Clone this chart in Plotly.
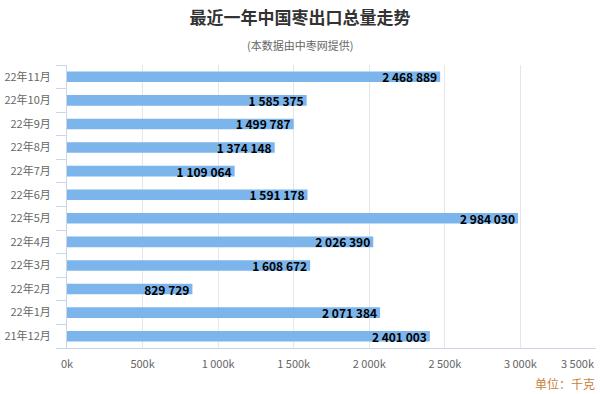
import plotly.graph_objects as go

categories = ["21年12月", "22年1月", "22年2月", "22年3月", "22年4月", "22年5月",
              "22年6月", "22年7月", "22年8月", "22年9月", "22年10月", "22年11月"]
values = [2401003, 2071384, 829729, 1608672, 2026390, 2984030,
          1591178, 1109064, 1374148, 1499787, 1585375, 2468889]
tick_vals = [0, 500000, 1000000, 1500000, 2000000, 2500000, 3000000, 3500000]
tick_text = ["0k", "500k", "1 000k", "1 500k", "2 000k", "2 500k", "3 000k", "3 500k"]

labels = ["{:,}".format(v).replace(",", " ") for v in values]

FONT = "Noto Sans CJK SC, Microsoft YaHei, sans-serif"
L, R, T, B = 67, 4, 65, 46
PW, PH = 600 - L - R, 394 - T - B

fig = go.Figure(go.Bar(
    y=categories, x=values, orientation="h",
    marker=dict(color="#7cb5ec", line=dict(width=0)),
    width=0.45,
    text=labels, textposition="inside", insidetextanchor="end",
    textfont=dict(family=FONT, size=12, color="#000000", weight="bold"),
    textangle=0, cliponaxis=False,
))

fig.update_layout(
    width=600, height=394,
    margin=dict(l=L, r=R, t=T, b=B, autoexpand=False),
    paper_bgcolor="white", plot_bgcolor="white",
    font=dict(family=FONT, color="#666666", size=11),
    showlegend=False,
    uniformtext=dict(minsize=12, mode="show"),
    xaxis=dict(range=[0, 3500000], tickvals=tick_vals,
               ticktext=tick_text[:-1] + [""],
               automargin=False,
               showgrid=True, gridcolor="#e6e6e6", gridwidth=1,
               zeroline=False, showline=True, linecolor="#ccd6eb",
               ticks="outside", ticklen=6, tickcolor="rgba(0,0,0,0)",
               tickfont=dict(size=11, color="#666666")),
    yaxis=dict(type="category", categoryorder="array", categoryarray=categories,
               automargin=False,
               showline=True, linecolor="#ccd6eb", ticks="outside",
               tickson="boundaries", ticklen=10, tickcolor="#ccd6eb",
               ticklabelstandoff=13,
               showgrid=False, tickfont=dict(size=11, color="#666666")),
    title=dict(text="<b>最近一年中国枣出口总量走势</b>", x=0.5, xanchor="center",
               xref="container",
               y=1 - 18/394, yanchor="middle", yref="container",
               font=dict(size=17, color="#333333", family=FONT)),
)
# last tick label, shifted left so it fits in the chart (as in the reference)
fig.add_annotation(text=tick_text[-1], xref="x", yref="paper",
                   x=tick_vals[-1], y=-(363 - (394 - B)) / PH, xanchor="right", yanchor="middle",
                   showarrow=False, font=dict(size=11, color="#666666", family=FONT))
fig.add_annotation(text="(本数据由中枣网提供)", xref="paper", yref="paper",
                   x=(300 - L) / PW, y=1 + (T - 45) / PH, xanchor="center", yanchor="middle",
                   showarrow=False, font=dict(size=11, color="#666666", family=FONT))
fig.add_annotation(text="单位：千克", xref="paper", yref="paper",
                   x=(597 - L) / PW, y=-(383 - (394 - B)) / PH, xanchor="right", yanchor="middle",
                   showarrow=False, font=dict(size=12, color="#c87f3a", family=FONT))

fig.write_html("out.html", config={"displayModeBar": False},
               post_script="document.body.style.margin='0';document.body.style.overflow='hidden';")
